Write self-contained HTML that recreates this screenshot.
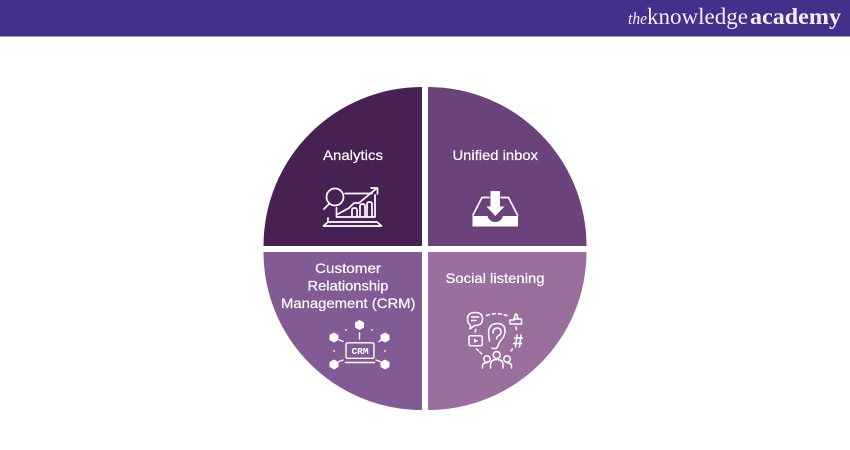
<!DOCTYPE html>
<html>
<head>
<meta charset="utf-8">
<style>
html,body{margin:0;padding:0;background:#fff;width:850px;height:450px;overflow:hidden}
svg{display:block}
text{font-family:"Liberation Sans",sans-serif;fill:#fff}
.l{font-size:14px;text-anchor:start;stroke:#fff;stroke-width:.2px}
.logo{font-family:"Liberation Serif",serif;font-size:23px;fill:#f1eff6}
.i{fill:none;stroke:#fff;stroke-width:1.700;stroke-linecap:round;stroke-linejoin:round}
.f{fill:#fff;stroke:none}
</style>
</head>
<body>
<svg width="850" height="450" viewBox="0 0 850 450" xmlns="http://www.w3.org/2000/svg">
<rect width="850" height="450" fill="#fff"/>
<rect width="850" height="36.500" fill="#43308a"/>
<text class="logo" x="628" y="24" font-style="italic" style="font-size:17px" textLength="19" lengthAdjust="spacingAndGlyphs">the</text>
<text class="logo" x="647" y="24" textLength="101" lengthAdjust="spacingAndGlyphs">knowledge</text>
<text class="logo" x="750" y="24" font-weight="bold" textLength="91" lengthAdjust="spacingAndGlyphs">academy</text>

<path d="M422 87A158.500 159 0 0 0 263.500 246H422Z" fill="#472154"/>
<path d="M428 87A158.500 159 0 0 1 586.500 246H428Z" fill="#6b4279"/>
<path d="M422 410A158.500 158 0 0 1 263.500 252H422Z" fill="#825a94"/>
<path d="M428 410A158.500 158 0 0 0 586.500 252H428Z" fill="#9a6f9d"/>

<text class="l" x="323" y="160" textLength="60" lengthAdjust="spacingAndGlyphs">Analytics</text>
<text class="l" x="452.500" y="160" textLength="85.500" lengthAdjust="spacingAndGlyphs">Unified inbox</text>
<text class="l" x="315" y="273" textLength="66" lengthAdjust="spacingAndGlyphs">Customer</text>
<text class="l" x="307.500" y="290.500" textLength="81" lengthAdjust="spacingAndGlyphs">Relationship</text>
<text class="l" x="281" y="308" textLength="134.500" lengthAdjust="spacingAndGlyphs">Management (CRM)</text>
<text class="l" x="445.500" y="283" textLength="99" lengthAdjust="spacingAndGlyphs">Social listening</text>

<!-- Analytics icon -->
<g class="i">
<circle cx="335" cy="197" r="8.500"/>
<path d="M329 204L324 209"/>
<path d="M345 193.500H372M375 195V217H336.500V208"/>
<path d="M338 214L349 208L354 203H359L377 188M371 188H377.500V194"/>
<path d="M352 216V210Q352 208 354.500 208Q357 208 357 210V216M360 216V206Q360 204 362.500 204Q365 204 365 206V216M367 216V204Q367 202 369.500 202Q372 202 372 204V216"/>
<path d="M328 218V222L323.500 226H381.500L377 222H328"/>
</g>

<!-- Inbox icon -->
<path class="i" d="M473 215L482 197.500H489M501 197.500H508.500L517.500 215"/>
<path class="f" d="M472.500 216H487.500A8 8 0 0 0 503 216H518V226.500H472.500Z"/>
<path class="f" d="M490.500 191H500V206.500H504.500L495.300 216L486.500 206.500H490.500Z"/>

<!-- CRM icon -->
<g class="f">
<path d="M359.500 320L364 322.500V327.500L359.500 330L355 327.500V322.500Z"/>
<path d="M334 332.500L338.500 335V340L334 342.500L329.500 340V335Z"/>
<path d="M385 332.500L389.500 335V340L385 342.500L380.500 340V335Z"/>
<path d="M334 359.500L338.500 362V367L334 369.500L329.500 367V362Z"/>
<path d="M385 359.500L389.500 362V367L385 369.500L380.500 367V362Z"/>
<circle cx="346" cy="330" r=".9"/><circle cx="372" cy="330" r=".9"/>
<circle cx="334" cy="351" r=".9"/><circle cx="385" cy="351" r=".9"/>
</g>
<g class="i" style="stroke-width:1.400">
<path d="M359.500 333V339"/>
<path d="M339.500 340L343 341.500M379 341.500L382 340M339 361.500L343 360M376 360L380 361.500"/>
<rect x="346" y="342.800" width="28" height="15.500" rx="1.500"/>
<path d="M345.500 362.500H374.500"/>
</g>
<text x="360" y="354" text-anchor="middle" style="font-size:9.500px;font-weight:bold;font-family:'Liberation Mono',monospace">CRM</text>

<!-- Social listening icon -->
<g class="i" style="stroke-width:1.500">
<path d="M470 329L470.500 325.500Q467.500 323 467.500 319Q467.500 312.500 475 312.500Q482.500 312.500 482.500 319Q482.500 325.500 475 325.500H474.500Z"/>
<path d="M471.500 317H478.500M471.500 320.500H476"/>
<path d="M514 319H521.500V324H510V320H514ZM514 319L515.500 314Q518 314 517.500 319"/>
<rect x="469" y="335.800" width="13.300" height="10" rx="1.500"/>
<path d="M474 338.500L478 340.800L474 343Z" class="f"/>
<path d="M489.500 341Q488 333 489 329Q491 323.500 497 323.500Q505 323.500 505 331Q505 336 501.500 339.500Q498.500 343 498 346Q496 350 492 348"/>
<path d="M493 333Q493 328 497.500 328Q501 328 501 332Q501 334.500 498 336Q496.500 337 496.500 339"/>
<path d="M514.500 338H522.500M513.500 343.500H521.500M517 335L515.500 347M521 335L519.500 347"/>
<path d="M486.500 315.500Q496 312 507 315.500" stroke-dasharray="3 3"/>
<path d="M476 329.500L474.500 333M516 327L516.500 331M476.500 349L483 355M512.500 349L510 352" stroke-dasharray="2.500 2"/>
<circle cx="496.700" cy="355" r="3.500"/>
<path d="M490.500 368V364.500Q490.500 359.500 496.700 359.500Q503 359.500 503 364.500V368"/>
<circle cx="487" cy="359" r="3.200"/>
<path d="M482.500 368V366Q482.500 362.800 487 362.800"/>
<circle cx="507" cy="359" r="3.200"/>
<path d="M507 362.800Q511.500 362.800 511.500 366V368"/>
</g>
</svg>
</body>
</html>
